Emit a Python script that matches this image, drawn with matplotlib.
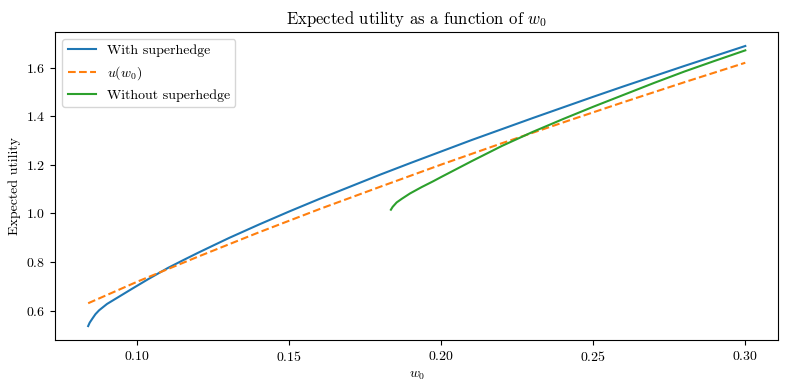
import matplotlib
matplotlib.use("Agg")
import matplotlib.pyplot as plt

plt.rcParams['font.family'] = 'serif'
plt.rcParams['font.serif'] = ['cmr10']
plt.rcParams['mathtext.fontset'] = 'cm'
plt.rcParams['axes.formatter.use_mathtext'] = True

# values
w_super = [0.0838, 0.0843, 0.0852, 0.0862, 0.0874, 0.0900, 0.0929, 0.0983, 0.1038,
           0.1100, 0.1147, 0.1200, 0.1250, 0.1302, 0.14,
           0.15, 0.16, 0.17, 0.18, 0.19, 0.20, 0.21, 0.22, 0.23, 0.24, 0.25,
           0.26, 0.27, 0.28, 0.29, 0.30]
eu_super = [0.536, 0.550, 0.567, 0.585, 0.601, 0.627, 0.649, 0.690, 0.731,
            0.775, 0.805, 0.838, 0.868, 0.899, 0.954,
            1.008, 1.060, 1.110, 1.160, 1.208, 1.255, 1.302, 1.347, 1.392, 1.436, 1.480,
            1.523, 1.565, 1.607, 1.648, 1.689]

w_u = [0.0838, 0.10, 0.12, 0.14, 0.16, 0.18, 0.20, 0.22, 0.24, 0.26, 0.28, 0.30]
u_vals = [0.630, 0.719, 0.822, 0.922, 1.018, 1.110, 1.201, 1.289, 1.374, 1.458, 1.540, 1.620]

w_nosuper = [0.1834, 0.1840, 0.1853, 0.1870, 0.1897, 0.1935, 0.1973, 0.20, 0.21,
             0.22, 0.23, 0.24, 0.25, 0.26, 0.27, 0.28, 0.29, 0.30]
eu_nosuper = [1.015, 1.027, 1.045, 1.060, 1.082, 1.108, 1.132, 1.150, 1.215,
              1.278, 1.335, 1.388, 1.439, 1.488, 1.537, 1.584, 1.628, 1.671]

fig, ax = plt.subplots(figsize=(7.9, 3.9), dpi=100)
ax.plot(w_super, eu_super, label="With superhedge")
ax.plot(w_u, u_vals, "--", label="$u(w_0)$")
ax.plot(w_nosuper, eu_nosuper, label="Without superhedge")
ax.set_xlabel("$w_0$")
ax.set_ylabel("Expected utility")
ax.set_title("Expected utility as a function of $w_0$")
ax.legend(loc="upper left")
fig.subplots_adjust(left=0.070, right=0.985, top=0.918, bottom=0.128)
fig.savefig("out.png")
